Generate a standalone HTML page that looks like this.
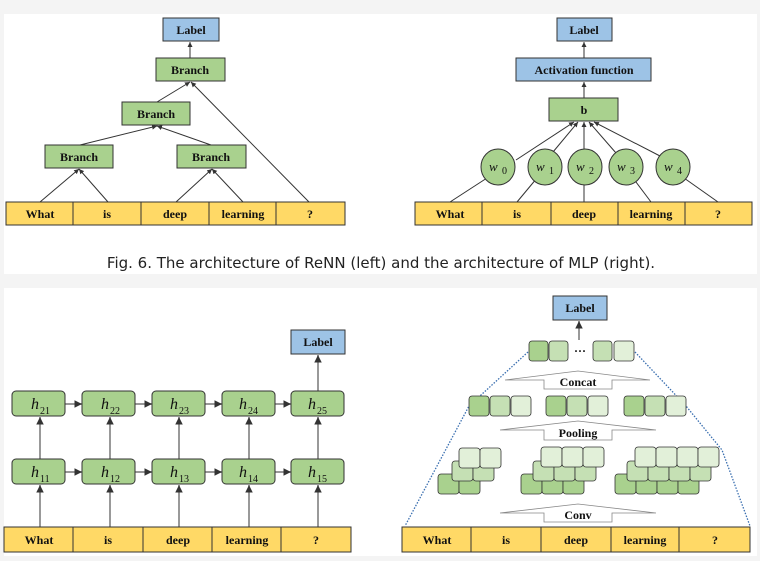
<!DOCTYPE html>
<html><head><meta charset="utf-8"><style>
body{margin:0;background:#f4f4f4;width:760px;height:561px;overflow:hidden}
svg{display:block}
.t{font-family:"Liberation Serif",serif;font-weight:bold;font-size:12px;fill:#111;text-anchor:middle;dominant-baseline:central}
.h{font-family:"Liberation Serif",serif;font-style:italic;font-size:16px;fill:#111}
.s{font-family:"Liberation Serif",serif;font-size:10px;fill:#111}
.ln{stroke:#333;stroke-width:1;fill:none}
.lg{stroke:#777;stroke-width:1.5;fill:none}
</style></head><body>
<svg width="760" height="561" xmlns="http://www.w3.org/2000/svg">
<defs><marker id="a" markerWidth="6" markerHeight="6" refX="5" refY="3" orient="auto"><path d="M0,0.5 L5,3 L0,5.5z" fill="#333"/></marker></defs>
<rect x="4" y="14" width="753" height="260" fill="#fff"/>
<rect x="4" y="288" width="753" height="268" fill="#fff"/>

<g class="ln" marker-end="url(#a)">
<line x1="190" y1="58" x2="190" y2="42"/>
<line x1="157" y1="102" x2="190" y2="82"/>
<line x1="309" y1="202" x2="191" y2="82"/>
<line x1="80" y1="145" x2="157" y2="126"/>
<line x1="211" y1="145" x2="157" y2="126"/>
<line x1="40" y1="202" x2="79" y2="169"/>
<line x1="108" y1="202" x2="79" y2="169"/>
<line x1="176" y1="202" x2="212" y2="169"/>
<line x1="243" y1="202" x2="212" y2="169"/>
</g>
<rect x="163" y="18" width="56" height="23" fill="#9dc3e6" stroke="#333"/><text class="t" x="191" y="30">Label</text>
<rect x="156" y="58" width="69" height="23" fill="#a9d18e" stroke="#333"/><text class="t" x="190" y="70">Branch</text>
<rect x="122" y="102" width="68" height="23" fill="#a9d18e" stroke="#333"/><text class="t" x="156" y="114">Branch</text>
<rect x="45" y="145" width="68" height="23" fill="#a9d18e" stroke="#333"/><text class="t" x="79" y="157">Branch</text>
<rect x="177" y="145" width="69" height="23" fill="#a9d18e" stroke="#333"/><text class="t" x="211" y="157">Branch</text>
<rect x="6" y="202" width="339" height="23" fill="#ffd966" stroke="#333"/>
<g class="ln"><line x1="73" y1="202" x2="73" y2="225"/><line x1="141" y1="202" x2="141" y2="225"/><line x1="209" y1="202" x2="209" y2="225"/><line x1="276" y1="202" x2="276" y2="225"/></g>
<text class="t" x="40" y="214">What</text><text class="t" x="107" y="214">is</text><text class="t" x="175" y="214">deep</text><text class="t" x="243" y="214">learning</text><text class="t" x="310" y="214">?</text>

<g class="ln" marker-end="url(#a)">
<line x1="584" y1="58" x2="584" y2="42"/>
<line x1="584" y1="98" x2="584" y2="82"/>
<line x1="516" y1="160" x2="574" y2="122"/>
<line x1="553" y1="152" x2="578" y2="122"/>
<line x1="584" y1="152" x2="584" y2="122"/>
<line x1="616" y1="153" x2="589" y2="122"/>
<line x1="660" y1="156" x2="594" y2="122"/>
</g>
<g class="ln">
<line x1="450" y1="202" x2="487" y2="178"/><line x1="517" y1="202" x2="537" y2="178"/><line x1="584" y1="202" x2="584" y2="185"/><line x1="651" y1="202" x2="633" y2="178"/><line x1="718" y1="202" x2="684" y2="178"/>
</g>
<rect x="557" y="18" width="55" height="23" fill="#9dc3e6" stroke="#333"/><text class="t" x="584" y="30">Label</text>
<rect x="516" y="58" width="135" height="23" fill="#9dc3e6" stroke="#333"/><text class="t" x="584" y="70">Activation function</text>
<rect x="549" y="98" width="69" height="23" fill="#a9d18e" stroke="#333"/><text class="t" x="584" y="110">b</text>
<g fill="#a9d18e" stroke="#333">
<ellipse cx="498" cy="167" rx="17" ry="18"/><ellipse cx="545" cy="167" rx="17" ry="18"/><ellipse cx="585" cy="167" rx="17" ry="18"/><ellipse cx="626" cy="167" rx="17" ry="18"/><ellipse cx="673" cy="167" rx="17" ry="18"/>
</g>
<g class="h"><text x="489" y="171" font-size="13">w</text><text x="536" y="171" font-size="13">w</text><text x="576" y="171" font-size="13">w</text><text x="617" y="171" font-size="13">w</text><text x="664" y="171" font-size="13">w</text></g>
<g class="s" font-size="8"><text x="502" y="174">0</text><text x="549" y="174">1</text><text x="589" y="174">2</text><text x="630" y="174">3</text><text x="677" y="174">4</text></g>
<rect x="415" y="202" width="337" height="23" fill="#ffd966" stroke="#333"/>
<g class="ln"><line x1="482" y1="202" x2="482" y2="225"/><line x1="551" y1="202" x2="551" y2="225"/><line x1="618" y1="202" x2="618" y2="225"/><line x1="685" y1="202" x2="685" y2="225"/></g>
<text class="t" x="450" y="214">What</text><text class="t" x="517" y="214">is</text><text class="t" x="584" y="214">deep</text><text class="t" x="651" y="214">learning</text><text class="t" x="718" y="214">?</text>

<text x="381" y="268" font-family="'DejaVu Sans','Liberation Sans',sans-serif" font-size="15" fill="#222" text-anchor="middle">Fig. 6.  The architecture of ReNN (left) and the architecture of MLP (right).</text>

<g class="lg" marker-end="url(#a)">
<line x1="318" y1="391" x2="318" y2="355"/>
<line x1="40" y1="527" x2="40" y2="485"/><line x1="110" y1="527" x2="110" y2="485"/><line x1="179" y1="527" x2="179" y2="485"/><line x1="249" y1="527" x2="249" y2="485"/><line x1="318" y1="527" x2="318" y2="485"/>
<line x1="40" y1="459" x2="40" y2="417"/><line x1="110" y1="459" x2="110" y2="417"/><line x1="179" y1="459" x2="179" y2="417"/><line x1="249" y1="459" x2="249" y2="417"/><line x1="318" y1="459" x2="318" y2="417"/>
<line x1="65" y1="404" x2="82" y2="404"/><line x1="135" y1="404" x2="152" y2="404"/><line x1="205" y1="404" x2="222" y2="404"/><line x1="275" y1="404" x2="291" y2="404"/>
<line x1="65" y1="472" x2="82" y2="472"/><line x1="135" y1="472" x2="152" y2="472"/><line x1="205" y1="472" x2="222" y2="472"/><line x1="275" y1="472" x2="291" y2="472"/>
</g>
<rect x="291" y="330" width="54" height="24" fill="#9dc3e6" stroke="#333"/><text class="t" x="318" y="342" font-size="13">Label</text>
<g fill="#a9d18e" stroke="#333">
<rect x="12" y="391" width="53" height="25" rx="4"/><rect x="82" y="391" width="53" height="25" rx="4"/><rect x="152" y="391" width="53" height="25" rx="4"/><rect x="222" y="391" width="53" height="25" rx="4"/><rect x="291" y="391" width="53" height="25" rx="4"/>
<rect x="12" y="459" width="53" height="25" rx="4"/><rect x="82" y="459" width="53" height="25" rx="4"/><rect x="152" y="459" width="53" height="25" rx="4"/><rect x="222" y="459" width="53" height="25" rx="4"/><rect x="291" y="459" width="53" height="25" rx="4"/>
</g>
<g class="h"><text x="31" y="409">h</text><text x="101" y="409">h</text><text x="170" y="409">h</text><text x="239" y="409">h</text><text x="308" y="409">h</text>
<text x="31" y="477">h</text><text x="101" y="477">h</text><text x="170" y="477">h</text><text x="239" y="477">h</text><text x="308" y="477">h</text></g>
<g class="s"><text x="40" y="414">21</text><text x="110" y="414">22</text><text x="179" y="414">23</text><text x="248" y="414">24</text><text x="317" y="414">25</text>
<text x="40" y="482">11</text><text x="110" y="482">12</text><text x="179" y="482">13</text><text x="248" y="482">14</text><text x="317" y="482">15</text></g>
<rect x="4" y="527" width="347" height="25" fill="#ffd966" stroke="#333"/>
<g class="ln"><line x1="73" y1="527" x2="73" y2="552"/><line x1="143" y1="527" x2="143" y2="552"/><line x1="212" y1="527" x2="212" y2="552"/><line x1="281" y1="527" x2="281" y2="552"/></g>
<text class="t" x="39" y="540" font-size="13">What</text><text class="t" x="108" y="540" font-size="13">is</text><text class="t" x="178" y="540" font-size="13">deep</text><text class="t" x="247" y="540" font-size="13">learning</text><text class="t" x="316" y="540" font-size="13">?</text>

<g stroke="#3a6fb0" stroke-width="1.3" stroke-dasharray="1.5,1.5" fill="none">
<polyline points="528,352 469,406 405,526"/>
<polyline points="635,352 686,406 722,450 750,526"/>
</g>
<line x1="579" y1="340" x2="579" y2="321" class="lg" marker-end="url(#a)"/>
<rect x="553" y="296" width="54" height="24" fill="#9dc3e6" stroke="#333"/><text class="t" x="580" y="308" font-size="13">Label</text>
<g stroke="#333" stroke-width="0.8">
<rect x="529" y="341" width="19" height="20" rx="3" fill="#a9d18e"/><rect x="549" y="341" width="19" height="20" rx="3" fill="#c5e0b4"/>
<rect x="593" y="341" width="19" height="20" rx="3" fill="#c5e0b4"/><rect x="614" y="341" width="20" height="20" rx="3" fill="#e2f0d9"/>
</g>
<text class="t" x="580" y="351" font-size="13">···</text>
<g fill="#fff" stroke="#888" stroke-width="0.8">
<polygon points="505,380 578,371 650,380 612,380 612,389 544,389 544,380"/>
<polygon points="500,430 578,421 656,430 612,430 612,440 544,440 544,430"/>
<polygon points="500,513 578,504 656,513 612,513 612,522 544,522 544,513"/>
</g>
<text class="t" x="578" y="382" font-size="13">Concat</text>
<text class="t" x="578" y="433" font-size="13">Pooling</text>
<text class="t" x="578" y="515" font-size="13">Conv</text>
<g stroke="#333" stroke-width="0.8">
<rect x="469" y="396" width="20" height="20" rx="3" fill="#a9d18e"/><rect x="490" y="396" width="20" height="20" rx="3" fill="#c5e0b4"/><rect x="511" y="396" width="20" height="20" rx="3" fill="#e2f0d9"/>
<rect x="546" y="396" width="20" height="20" rx="3" fill="#a9d18e"/><rect x="567" y="396" width="20" height="20" rx="3" fill="#c5e0b4"/><rect x="588" y="396" width="20" height="20" rx="3" fill="#e2f0d9"/>
<rect x="624" y="396" width="20" height="20" rx="3" fill="#a9d18e"/><rect x="645" y="396" width="20" height="20" rx="3" fill="#c5e0b4"/><rect x="666" y="396" width="20" height="20" rx="3" fill="#e2f0d9"/>
<rect x="438" y="474" width="21" height="20" rx="3" fill="#a9d18e"/><rect x="459" y="474" width="21" height="20" rx="3" fill="#a9d18e"/>
<rect x="452" y="461" width="21" height="20" rx="3" fill="#c5e0b4"/><rect x="473" y="461" width="21" height="20" rx="3" fill="#c5e0b4"/>
<rect x="459" y="448" width="21" height="20" rx="3" fill="#e2f0d9"/><rect x="480" y="448" width="21" height="20" rx="3" fill="#e2f0d9"/>
<rect x="521" y="474" width="21" height="20" rx="3" fill="#a9d18e"/><rect x="542" y="474" width="21" height="20" rx="3" fill="#a9d18e"/><rect x="563" y="474" width="21" height="20" rx="3" fill="#a9d18e"/>
<rect x="533" y="461" width="21" height="20" rx="3" fill="#c5e0b4"/><rect x="554" y="461" width="21" height="20" rx="3" fill="#c5e0b4"/><rect x="575" y="461" width="21" height="20" rx="3" fill="#c5e0b4"/>
<rect x="541" y="447" width="21" height="20" rx="3" fill="#e2f0d9"/><rect x="562" y="447" width="21" height="20" rx="3" fill="#e2f0d9"/><rect x="583" y="447" width="21" height="20" rx="3" fill="#e2f0d9"/>
<rect x="615" y="474" width="21" height="20" rx="3" fill="#a9d18e"/><rect x="636" y="474" width="21" height="20" rx="3" fill="#a9d18e"/><rect x="657" y="474" width="21" height="20" rx="3" fill="#a9d18e"/><rect x="678" y="474" width="21" height="20" rx="3" fill="#a9d18e"/>
<rect x="627" y="461" width="21" height="20" rx="3" fill="#c5e0b4"/><rect x="648" y="461" width="21" height="20" rx="3" fill="#c5e0b4"/><rect x="669" y="461" width="21" height="20" rx="3" fill="#c5e0b4"/><rect x="690" y="461" width="21" height="20" rx="3" fill="#c5e0b4"/>
<rect x="635" y="447" width="21" height="20" rx="3" fill="#e2f0d9"/><rect x="656" y="447" width="21" height="20" rx="3" fill="#e2f0d9"/><rect x="677" y="447" width="21" height="20" rx="3" fill="#e2f0d9"/><rect x="698" y="447" width="21" height="20" rx="3" fill="#e2f0d9"/>
</g>
<rect x="402" y="527" width="348" height="25" fill="#ffd966" stroke="#333"/>
<g class="ln"><line x1="471" y1="527" x2="471" y2="552"/><line x1="541" y1="527" x2="541" y2="552"/><line x1="611" y1="527" x2="611" y2="552"/><line x1="679" y1="527" x2="679" y2="552"/></g>
<text class="t" x="437" y="540" font-size="13">What</text><text class="t" x="506" y="540" font-size="13">is</text><text class="t" x="576" y="540" font-size="13">deep</text><text class="t" x="645" y="540" font-size="13">learning</text><text class="t" x="715" y="540" font-size="13">?</text>
</svg>
</body></html>
